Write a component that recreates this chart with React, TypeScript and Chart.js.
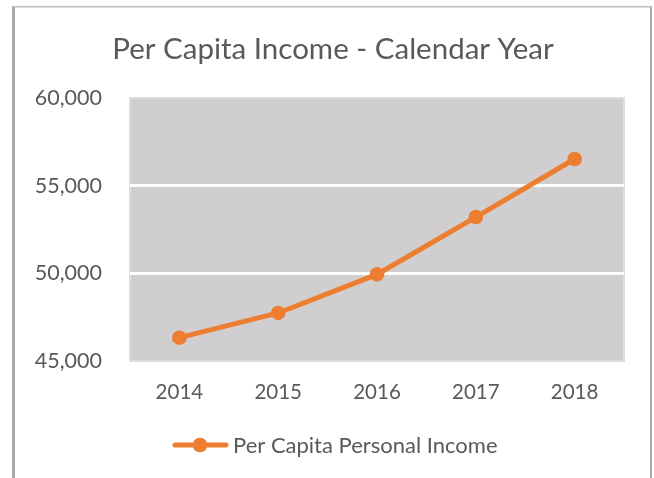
import React, { useEffect, useRef } from "react";
import { Chart, registerables } from "chart.js";

Chart.register(...registerables);

const TITLE = "Per Capita Income - Calendar Year";
const SERIES_LABEL = "Per Capita Personal Income";
const YEARS = ["2014", "2015", "2016", "2017", "2018"];
const INCOME = [46330, 47740, 49940, 53210, 56520];
const Y_MIN = 45000;
const Y_MAX = 60000;
const Y_STEP = 5000;

const ORANGE = "#ed7d31";
const TEXT = "#595959";
const FONT = "Lato";

const decorPlugin = {
  id: "decor",
  beforeDraw(chart: any) {
    const { ctx, chartArea: a } = chart;
    ctx.save();
    ctx.fillStyle = "#ffffff";
    ctx.fillRect(0, 0, chart.width, chart.height);
    // outer frame
    ctx.fillStyle = "#a9a9a9";
    ctx.fillRect(12, 6, 3, chart.height);
    ctx.fillRect(650, 6, 2, chart.height);
    ctx.fillStyle = "#bdbdbd";
    ctx.fillRect(12, 6, 640, 1.5);
    // plot background
    ctx.fillStyle = "#d0cece";
    ctx.fillRect(a.left, a.top, a.right - a.left, a.bottom - a.top);
    ctx.strokeStyle = "#dedede";
    ctx.lineWidth = 2;
    ctx.strokeRect(a.left, a.top, a.right - a.left, a.bottom - a.top);
    ctx.restore();
  },
  afterDraw(chart: any) {
    const { ctx } = chart;
    ctx.save();
    // title
    ctx.fillStyle = TEXT;
    ctx.font = `29.5px ${FONT}`;
    ctx.textAlign = "center";
    ctx.textBaseline = "alphabetic";
    ctx.fillText(TITLE, 333, 58.5);
    // legend
    const ly = 445;
    ctx.strokeStyle = ORANGE;
    ctx.lineWidth = 5;
    ctx.lineCap = "round";
    ctx.beginPath();
    ctx.moveTo(175, ly);
    ctx.lineTo(226, ly);
    ctx.stroke();
    ctx.fillStyle = ORANGE;
    ctx.beginPath();
    ctx.arc(200, ly, 7.3, 0, Math.PI * 2);
    ctx.fill();
    ctx.fillStyle = TEXT;
    ctx.font = `22px ${FONT}`;
    ctx.textAlign = "left";
    ctx.fillText(chart.data.datasets[0].label, 233, 453);
    ctx.restore();
  },
};

export default function App() {
  const ref = useRef<HTMLCanvasElement>(null);
  useEffect(() => {
    if (!ref.current) return;
    const chart = new Chart(ref.current, {
      type: "line",
      data: {
        labels: YEARS,
        datasets: [
          {
            label: SERIES_LABEL,
            data: INCOME,
            borderColor: ORANGE,
            backgroundColor: ORANGE,
            borderWidth: 5,
            pointRadius: 7.3,
            pointHoverRadius: 7.3,
            pointBackgroundColor: ORANGE,
            pointBorderWidth: 0,
            tension: 0,
          },
        ],
      },
      options: {
        responsive: false,
        animation: false,
        layout: { padding: { top: 98, right: 30, bottom: 67, left: 0 } },
        plugins: {
          legend: { display: false },
          title: { display: false },
          tooltip: { enabled: false },
        },
        scales: {
          x: {
            offset: true,
            grid: { display: false, drawTicks: false, offset: true },
            border: { display: false },
            ticks: { color: TEXT, font: { family: FONT, size: 20.5 }, padding: 19 },
            afterFit: (s: any) => {
              s.height = 50;
            },
          },
          y: {
            min: Y_MIN,
            max: Y_MAX,
            grid: {
              drawTicks: false,
              lineWidth: 3,
              color: (c: any) =>
                c.tick && c.tick.value > Y_MIN && c.tick.value < Y_MAX ? "#ffffff" : "rgba(0,0,0,0)",
            },
            border: { display: false },
            ticks: {
              stepSize: Y_STEP,
              color: TEXT,
              font: { family: FONT, size: 21.5 },
              padding: 28,
              callback: (v: any) => Number(v).toLocaleString("en-US"),
            },
            afterFit: (s: any) => {
              s.width = 130;
            },
          },
        },
      },
      plugins: [decorPlugin],
    });
    return () => chart.destroy();
  }, []);
  return (
    <div style={{ position: "absolute", left: 0, top: 0, width: 654, height: 478 }}>
      <canvas ref={ref} width={654} height={478} />
    </div>
  );
}
